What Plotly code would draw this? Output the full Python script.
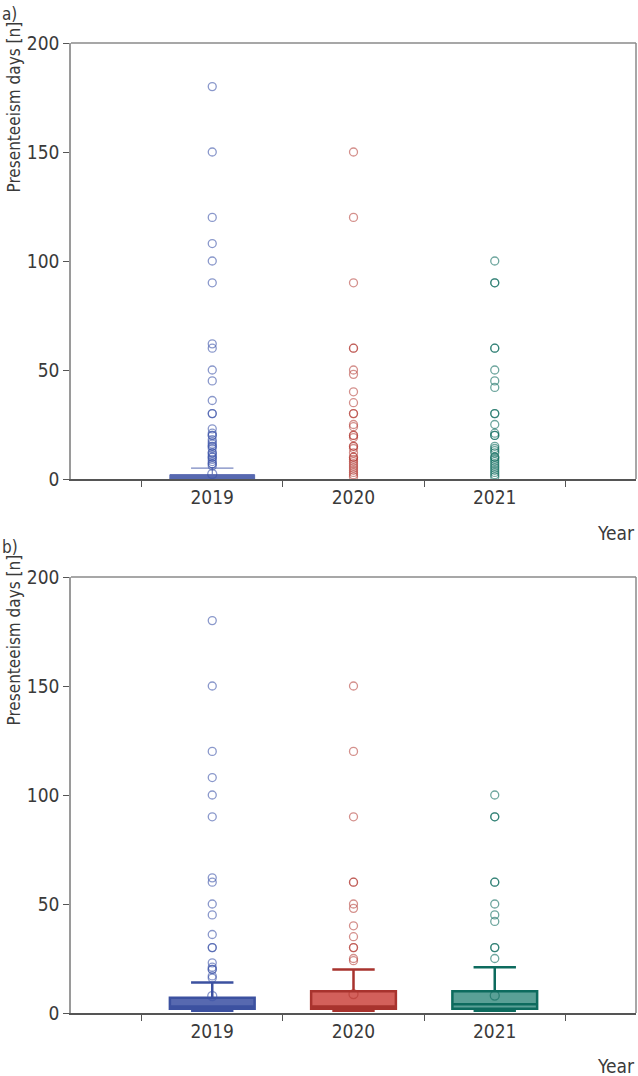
import plotly.graph_objects as go

years = ["2019", "2020", "2021"]
y_ticks = [0, 50, 100, 150, 200]

# panel a) box statistics (all employees)
a_q1 = [0, 0, 0]
a_median = [0, 0, 0]
a_q3 = [2, 0, 0]
a_lower = [0, 0, 0]
a_upper = [5, 0, 0]
a_mean = [2.3, None, None]

# panel a) outliers
a_out_2019 = [180, 150, 120, 108, 100, 90, 62, 60, 50, 45, 36, 30, 30, 23, 21, 20, 20, 18,
              17, 16, 15, 15, 14, 12, 12, 11, 10, 10, 9, 8, 7, 7, 6]
a_out_2020 = [150, 120, 90, 60, 60, 50, 48, 40, 35, 30, 30, 25, 24, 20, 20, 19, 15, 15, 14,
              12, 10, 10, 9, 8, 7, 6, 5, 4, 3, 2, 1]
a_out_2021 = [100, 90, 90, 60, 60, 50, 45, 42, 30, 30, 25, 21, 20, 20, 15, 14, 13, 12, 10, 10,
              9, 8, 7, 6, 5, 4, 3, 2, 1]

# panel b) box statistics (employees with presenteeism)
b_q1 = [2, 2, 2]
b_median = [3, 3, 4]
b_q3 = [7, 10, 10]
b_lower = [1, 1, 1]
b_upper = [14, 20, 21]
b_mean = [7.8, 8.7, 8]

# panel b) outliers
b_out_2019 = [180, 150, 120, 108, 100, 90, 62, 60, 50, 45, 36, 30, 30, 23, 21, 20, 20, 17, 16]
b_out_2020 = [150, 120, 90, 60, 60, 50, 48, 40, 35, 30, 30, 25, 24]
b_out_2021 = [100, 90, 90, 60, 60, 50, 45, 42, 30, 30, 25]

fills = ["#5769b0", "#d3605b", "#5aa096"]
lines = ["#3c51a0", "#a8332e", "#0d6b5e"]
outc = ["rgba(60,84,168,0.6)", "rgba(176,52,46,0.55)", "rgba(13,107,94,0.6)"]

FONT = "Liberation Sans Narrow, DejaVu Sans Condensed, Arial Narrow, sans-serif"
TXT = "#3a3a3a"

fig = go.Figure()

panels = [
    ("x", "y", a_q1, a_median, a_q3, a_lower, a_upper, a_mean,
     [a_out_2019, a_out_2020, a_out_2021], 1.0),
    ("x2", "y2", b_q1, b_median, b_q3, b_lower, b_upper, b_mean,
     [b_out_2019, b_out_2020, b_out_2021], 2.5),
]

for xa, ya, q1, med, q3, lo, up, mean, outs, lw in panels:
    for i, yr in enumerate(years):
        collapsed = q3[i] == q1[i]
        fig.add_trace(go.Box(
            x=[yr], q1=[q1[i]], median=[med[i]], q3=[q3[i]],
            lowerfence=[lo[i]], upperfence=[up[i]],
            boxpoints=False, width=0.6, whiskerwidth=0.5,
            fillcolor=fills[i],
            line=dict(color=lines[i] if lw > 1 else fills[i],
                      width=0 if collapsed else lw),
            xaxis=xa, yaxis=ya, showlegend=False, hoverinfo="skip",
        ))
        fig.add_trace(go.Scatter(
            x=[yr] * len(outs[i]), y=outs[i], mode="markers",
            marker=dict(symbol="circle-open", size=8, color=outc[i],
                        line=dict(width=1.3, color=outc[i])),
            xaxis=xa, yaxis=ya, showlegend=False, hoverinfo="skip",
        ))
        if mean[i] is not None:
            fig.add_trace(go.Scatter(
                x=[yr], y=[mean[i]], mode="markers",
                marker=dict(symbol="circle-open", size=9, color=outc[i],
                            line=dict(width=1.3, color=outc[i])),
                xaxis=xa, yaxis=ya, showlegend=False, hoverinfo="skip",
            ))

H = 970.0
def py(p):
    return (1013 - p) / H

xcommon = dict(type="category", categoryorder="array", categoryarray=years,
               range=[-1, 3], tickson="boundaries", ticks="outside", ticklen=6,
               tickcolor="#555", showline=True, linecolor="#555", linewidth=1.5,
               showgrid=False, zeroline=False,
               tickfont=dict(family=FONT, size=19, color=TXT))
ycommon = dict(range=[0, 200], tickvals=y_ticks, ticks="outside", ticklen=6,
               tickcolor="#555", showline=True, linecolor="#9a9a9a", linewidth=1.5,
               showgrid=False, zeroline=False,
               tickfont=dict(family=FONT, size=19, color=TXT))

fig.update_layout(
    width=638, height=1076,
    margin=dict(l=71, r=2, t=43, b=63),
    paper_bgcolor="white", plot_bgcolor="white",
    xaxis=dict(domain=[0, 1], anchor="y", **xcommon),
    yaxis=dict(domain=[py(479), 1], anchor="x", **ycommon),
    xaxis2=dict(domain=[0, 1], anchor="y2", **xcommon),
    yaxis2=dict(domain=[0, py(577)], anchor="x2", **ycommon),
)

shapes = []
for xr, yr_ in [("x domain", "y domain"), ("x2 domain", "y2 domain")]:
    shapes.append(dict(type="line", xref=xr, yref=yr_, x0=0, x1=1, y0=1, y1=1,
                       line=dict(color="#8a8a8a", width=1.5)))
    shapes.append(dict(type="line", xref=xr, yref=yr_, x0=1, x1=1, y0=0, y1=1,
                       line=dict(color="#8a8a8a", width=1.5)))
fig.update_layout(shapes=shapes)

def xp(p):
    return (p - 71) / 565.0

ann = []
ann.append(dict(text="a)", x=xp(0), y=py(2), xref="paper", yref="paper",
                xanchor="left", yanchor="top", showarrow=False,
                font=dict(family=FONT, size=17, color=TXT)))
ann.append(dict(text="b)", x=xp(0), y=py(535), xref="paper", yref="paper",
                xanchor="left", yanchor="top", showarrow=False,
                font=dict(family=FONT, size=17, color=TXT)))
for top in (20, 553):
    ann.append(dict(text="Presenteeism days [n]", x=xp(13), y=py(top),
                    xref="paper", yref="paper", xanchor="center", yanchor="top",
                    textangle=-90, showarrow=False,
                    font=dict(family=FONT, size=17, color=TXT)))
for yy in (533, 1066):
    ann.append(dict(text="Year", x=xp(637), y=py(yy), xref="paper", yref="paper",
                    xanchor="right", yanchor="middle", showarrow=False,
                    font=dict(family=FONT, size=19, color=TXT)))
fig.update_layout(annotations=ann)

fig.write_html(
    "out.html",
    config={"displayModeBar": False},
    post_script="document.body.style.margin='0';document.body.style.padding='0';"
                "document.body.style.overflow='hidden';",
)
